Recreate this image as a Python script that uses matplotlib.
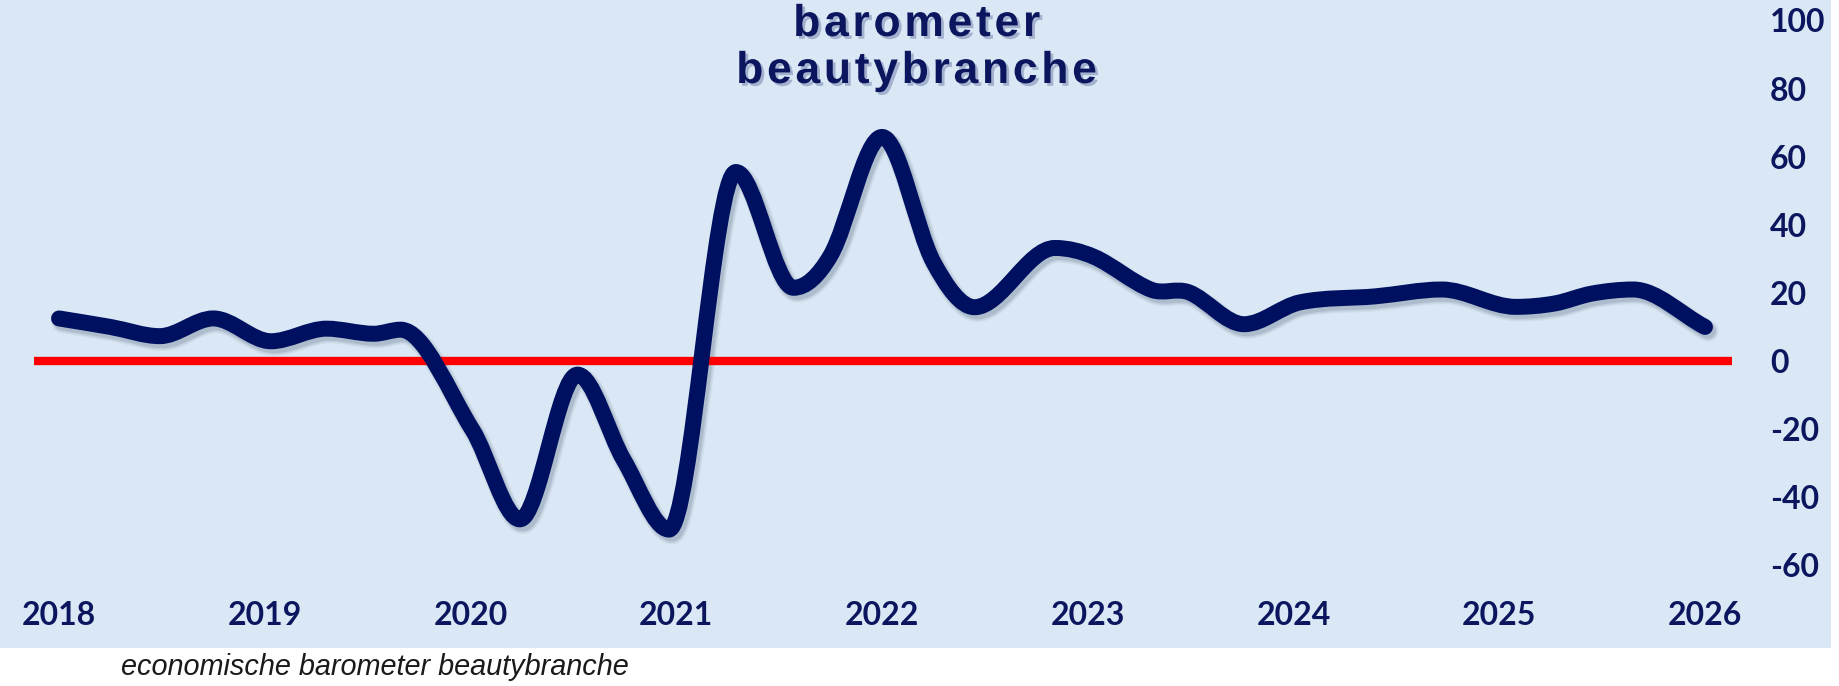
import matplotlib
matplotlib.use('Agg')
import matplotlib.pyplot as plt
from matplotlib.path import Path
from matplotlib.patches import PathPatch, Rectangle
import matplotlib.transforms as mtransforms
import matplotlib.patheffects as pe
import numpy as np

# ---- data (decimal year, barometer value) ----
dates = [2018.00, 2018.25, 2018.49, 2018.75, 2019.03, 2019.30, 2019.53, 2019.66,
         2020.01, 2020.24, 2020.52, 2020.745, 2020.965, 2021.29, 2021.57, 2021.75,
         2022.00, 2022.25, 2022.45, 2022.84, 2023.03, 2023.31, 2023.49, 2023.76,
         2024.03, 2024.40, 2024.72, 2025.08, 2025.27, 2025.45, 2025.65, 2026.00]
values = [12.5, 10.0, 7.3, 12.5, 5.8, 9.5, 8.0, 9.2,
          -20.3, -46.5, -4.0, -29.1, -49.5, 55.5, 21.5, 31.0,
          65.8, 29.0, 15.8, 33.2, 30.6, 20.9, 20.2, 10.8,
          17.2, 19.0, 21.0, 15.9, 16.9, 19.8, 21.0, 10.0]
year_ticks = [2018, 2019, 2020, 2021, 2022, 2023, 2024, 2025, 2026]
year_labels = [str(y) for y in year_ticks]
value_ticks = [-60, -40, -20, 0, 20, 40, 60, 80, 100]
value_labels = [str(v) for v in value_ticks]
title_lines = ["barometer", "beautybranche"]
caption = "economische barometer beautybranche"

W, H = 1839, 686
BG = '#DAE8F5'
NAVY = '#001060'
TXT = '#0C165E'

fig = plt.figure(figsize=(W / 100, H / 100), dpi=100)
fig.patch.set_facecolor('white')
fig.add_artist(Rectangle((0, 1 - 648 / H), 1831 / W, 648 / H, transform=fig.transFigure,
                         facecolor=BG, edgecolor='none', zorder=0))

ax = fig.add_axes([34 / W, 1 - 565.3 / H, (1732 - 34) / W, (565.3 - 20.5) / H])
ax.set_facecolor('none')
ax.set_xlim(2017.8784, 2026.1313)
ax.set_ylim(-60, 100)
for s in ax.spines.values():
    s.set_visible(False)

ax.axhline(0, color='#FF0000', lw=6, solid_capstyle='butt', zorder=2)


def smooth_path(xs, ys):
    """Smooth cubic Hermite curve in x through the points, as Bezier segments."""
    x = np.asarray(xs, float)
    y = np.asarray(ys, float)
    n = len(x)
    m = np.zeros(n)
    for i in range(n):
        if i == 0:
            m[i] = (y[1] - y[0]) / (x[1] - x[0])
        elif i == n - 1:
            m[i] = (y[-1] - y[-2]) / (x[-1] - x[-2])
        else:
            d0 = y[i] - y[i - 1]
            d1 = y[i + 1] - y[i]
            if d0 * d1 <= 0:
                m[i] = 0.0
            else:
                m[i] = (y[i + 1] - y[i - 1]) / (x[i + 1] - x[i - 1])
    verts = [(x[0], y[0])]
    codes = [Path.MOVETO]
    for i in range(n - 1):
        h = x[i + 1] - x[i]
        verts += [(x[i] + h / 3, y[i] + m[i] * h / 3),
                  (x[i + 1] - h / 3, y[i + 1] - m[i + 1] * h / 3),
                  (x[i + 1], y[i + 1])]
        codes += [Path.CURVE4] * 3
    return Path(verts, codes)


path = smooth_path(dates, values)
shadow_tr = mtransforms.offset_copy(ax.transData, fig=fig, x=3, y=-4, units='dots')
for w, a in [(15.5, 0.07), (13.5, 0.10), (11.5, 0.16)]:
    ax.add_patch(PathPatch(path, transform=shadow_tr, fill=False, edgecolor='#4A5A70',
                           alpha=a, lw=w, capstyle='round', joinstyle='round', zorder=1.5,
                           clip_on=False))
ax.add_patch(PathPatch(path, fill=False, edgecolor=NAVY, lw=11.5, capstyle='round',
                       joinstyle='round', zorder=4, clip_on=False))

ax.set_xticks(year_ticks)
ax.set_xticklabels(year_labels)
ax.yaxis.tick_right()
ax.set_yticks(value_ticks)
ax.set_yticklabels(value_labels)
ax.tick_params(axis='x', length=0, pad=26, labelsize=23, labelcolor=TXT)
ax.tick_params(axis='y', length=0, pad=27.4, labelsize=23, labelcolor=TXT)
for lbl in ax.get_xticklabels() + ax.get_yticklabels():
    lbl.set_fontfamily('Lato')
    lbl.set_fontweight('bold')

shadow = [pe.withSimplePatchShadow(offset=(2, -2), shadow_rgbFace='#6070A0', alpha=0.45)]
for txt, base in zip(title_lines, [36, 83]):
    fig.text(917 / W, 1 - base / H, '\u200a'.join(txt), ha='center', va='baseline',
             fontsize=32, fontweight='bold', family=['Liberation Sans', 'DejaVu Sans'],
             color=TXT, path_effects=shadow)

fig.text(121 / W, 1 - 667 / H, caption, ha='left', va='center', fontsize=20.8,
         style='italic', family='Liberation Sans', color='#1A1A1A')

fig.savefig('out.png', dpi=100)
